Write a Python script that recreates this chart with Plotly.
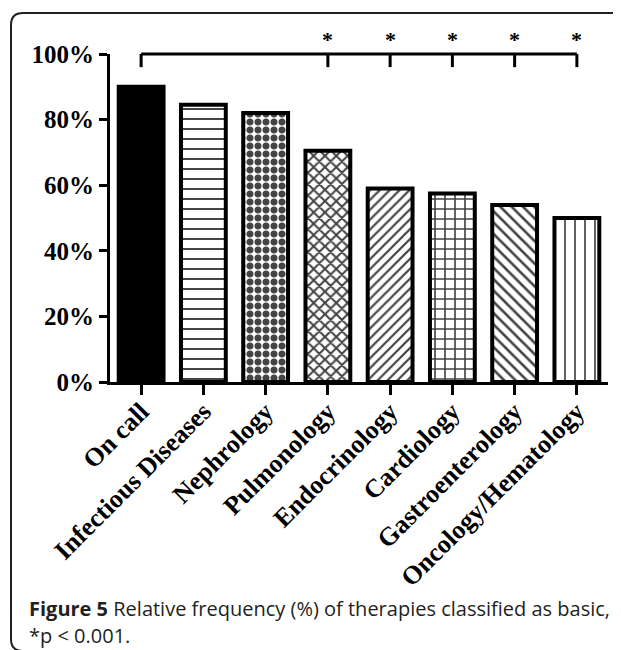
import plotly.graph_objects as go

# ---- data ----
categories = ["On call", "Infectious Diseases", "Nephrology", "Pulmonology",
              "Endocrinology", "Cardiology", "Gastroenterology", "Oncology/Hematology"]
basic_pct = [90, 84.5, 82, 70.5, 59, 57.5, 54, 50]
y_ticks = [0, 20, 40, 60, 80, 100]
y_tick_labels = [f"{v}%" for v in y_ticks]
bracket_ref = "On call"
significant = ["Pulmonology", "Endocrinology", "Cardiology", "Gastroenterology", "Oncology/Hematology"]
sig_label = "*"
caption_bold = "Figure 5"
caption_line1 = " Relative frequency (%) of therapies classified as basic,"
caption_line2 = "*p < 0.001."

# ---- styles ----
pattern_shapes = ["", "-", ".", "x", "/", "+", "\\", "|"]
pattern_sizes = [8, 10, 8, 8, 7, 10, 8, 10]
pattern_solid = [0.2, 0.2, 0.6, 0.45, 0.32, 0.3, 0.32, 0.17]
fill_colors = ["black"] + ["white"] * 7

# page body has an 8px margin: figure occupies window pixels 8..621, 8..650
OFF = 8
W, H = 621 - OFF, 650 - OFF
ML, MR, MT, MB = 110 - OFF, 13, 54 - OFF, 268
PW, PH = W - ML - MR, H - MT - MB
Y_MAX = 100

def px_x(px):  # window pixel -> paper x
    return (px - OFF - ML) / PW

def px_y(py):  # window pixel -> paper y
    return (H - MB - (py - OFF)) / PH

serif = "Times New Roman, Liberation Serif, serif"
sans = "Open Sans, Noto Sans, sans-serif"

fig = go.Figure()
fig.add_trace(go.Bar(
    x=categories, y=basic_pct, width=0.72,
    marker=dict(
        color=fill_colors,
        line=dict(color="black", width=4),
        pattern=dict(shape=pattern_shapes, size=pattern_sizes, solidity=pattern_solid,
                     fgcolor="black", fgopacity=1),
    ),
    showlegend=False,
))

# significance bracket (x in category units, y relative to y-axis max)
bracket_top = 100 / Y_MAX
bracket_drop = 96 / Y_MAX
line_style = dict(color="black", width=3)
fig.add_shape(type="line", xref="x", yref="paper", x0=bracket_ref, x1=significant[-1],
              y0=bracket_top, y1=bracket_top, line=line_style)
for c in [bracket_ref] + significant:
    fig.add_shape(type="line", xref="x", yref="paper", x0=c, x1=c,
                  y0=bracket_drop, y1=bracket_top, line=line_style)
for c in significant:
    fig.add_annotation(x=c, xref="x", yref="paper", y=px_y(40), text=sig_label,
                       showarrow=False, font=dict(family=serif, size=22, color="black", weight="bold"),
                       xanchor="center", yanchor="middle")

# caption
fig.add_annotation(xref="paper", yref="paper", x=px_x(27), y=px_y(608),
                   text=f"<b>{caption_bold}</b>{caption_line1}", showarrow=False,
                   xanchor="left", yanchor="middle",
                   font=dict(family=sans, size=20, color="#231f20"))
fig.add_annotation(xref="paper", yref="paper", x=px_x(27), y=px_y(635),
                   text=caption_line2, showarrow=False,
                   xanchor="left", yanchor="middle",
                   font=dict(family=sans, size=20, color="#231f20"))

# rounded frame
L, R, T, B = px_x(11), px_x(660), px_y(13), px_y(651)
rx, ry = 12 / PW, 12 / PH
frame_path = (f"M {L},{B + ry} L {L},{T - ry} Q {L},{T} {L + rx},{T} L {R},{T} "
              f"L {R},{B} L {L + rx},{B} Q {L},{B} {L},{B + ry} Z")
fig.add_shape(type="path", xref="paper", yref="paper", path=frame_path,
              line=dict(color="#231f20", width=2), fillcolor="rgba(0,0,0,0)")

fig.update_layout(
    width=W, height=H,
    margin=dict(l=ML, r=MR, t=MT, b=MB),
    paper_bgcolor="white", plot_bgcolor="white",
    xaxis=dict(
        type="category", range=[-0.5, len(categories) - 0.5],
        showline=True, linecolor="black", linewidth=3,
        ticks="outside", ticklen=10, tickwidth=3, tickcolor="black",
        tickangle=-45, showgrid=False, zeroline=False, ticklabelstandoff=-9,
        tickfont=dict(family=serif, size=26, color="black", weight="bold"),
    ),
    yaxis=dict(
        range=[0, Y_MAX], tickvals=y_ticks, ticktext=y_tick_labels,
        showline=True, linecolor="black", linewidth=3,
        ticks="outside", ticklen=8, tickwidth=3, tickcolor="black",
        showgrid=False, zeroline=False,
        tickfont=dict(family=serif, size=25, color="black", weight="bold"),
    ),
)

fig.write_html("out.html")
